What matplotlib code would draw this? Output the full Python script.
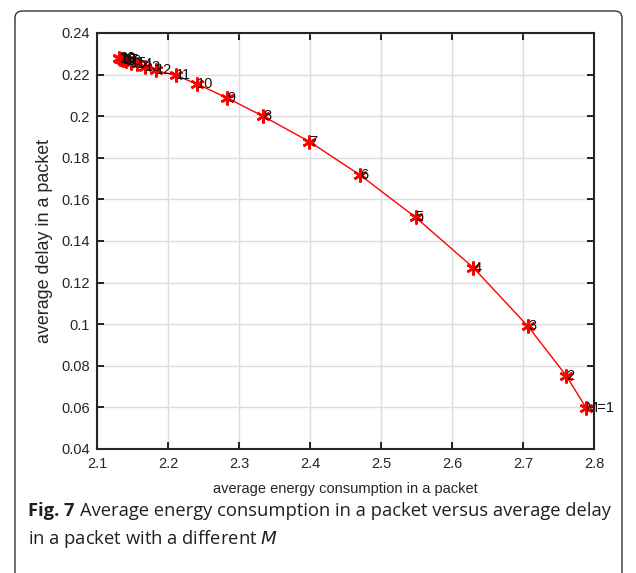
import matplotlib
matplotlib.use("Agg")
import matplotlib.pyplot as plt
from matplotlib.patches import FancyBboxPatch

# values
m_values = list(range(1, 21))
energy = [2.789, 2.761, 2.707, 2.630, 2.549, 2.471, 2.399, 2.334, 2.283, 2.241,
          2.211, 2.183, 2.168, 2.156, 2.148, 2.141, 2.137, 2.134, 2.132, 2.131]
delay = [0.0597, 0.0752, 0.0990, 0.1272, 0.1513, 0.1716, 0.1878, 0.2000, 0.2088, 0.2155,
         0.2196, 0.2220, 0.2236, 0.2249, 0.2258, 0.2265, 0.2270, 0.2274, 0.2277, 0.2279]
x_ticks = [2.1, 2.2, 2.3, 2.4, 2.5, 2.6, 2.7, 2.8]
y_ticks = [0.04, 0.06, 0.08, 0.1, 0.12, 0.14, 0.16, 0.18, 0.2, 0.22, 0.24]

plt.rcParams['font.family'] = ['Liberation Sans', 'DejaVu Sans']

fig = plt.figure(figsize=(6.36, 5.73), dpi=100)

# page frame round the figure
frame = FancyBboxPatch((15 / 636, -0.05), 607 / 636, 1 - 11 / 573 + 0.05,
                       boxstyle="round,pad=0,rounding_size=0.012",
                       transform=fig.transFigure, fill=False,
                       edgecolor='#333333', linewidth=1.0)
fig.patches.append(frame)

ax = fig.add_axes([97 / 636, 1 - 449 / 573, 497 / 636, 416 / 573])
ax.plot(energy, delay, color='red', linewidth=1.0, marker=(6, 2, 0),
        markersize=10, markeredgewidth=1.8)
for m, x, y in zip(m_values, energy, delay):
    label = 'M=1' if m == 1 else str(m)
    ax.text(x, y, label, fontsize=10.5, ha='left', va='center', color='#111111')

ax.set_xlim(2.1, 2.8)
ax.set_ylim(0.04, 0.24)
ax.set_xticks(x_ticks)
ax.set_yticks(y_ticks)
ax.set_xticklabels([f"{t:g}" for t in x_ticks])
ax.set_yticklabels([f"{t:g}" for t in y_ticks])
ax.tick_params(direction='in', length=5, width=1.2, labelsize=10.5,
               labelcolor='#262626', top=True, right=True)
ax.tick_params(axis='x', pad=6)
ax.tick_params(axis='y', pad=5)
ax.grid(True, color='#dddddd', linewidth=1.0)
ax.set_axisbelow(True)
for s in ax.spines.values():
    s.set_linewidth(1.5)
    s.set_color('#262626')

ax.set_xlabel('average energy consumption in a packet', fontsize=10.5, color='#262626',
              labelpad=8)
ax.set_ylabel('average delay in a packet', fontsize=12.9, color='#262626', labelpad=6)

# caption: bold figure number followed by the regular text
cap_y1 = 1 - 516 / 573
cap_y2 = 1 - 544 / 573
bold = fig.text(28 / 636, cap_y1, 'Fig. 7', fontsize=13.2, family='Open Sans',
                weight='bold', va='baseline', ha='left', color='#231f20')
fig.canvas.draw()
bb = bold.get_window_extent()
fig.text((bb.x1 + 5) / 636, cap_y1,
         'Average energy consumption in a packet versus average delay',
         fontsize=13.2, family='Open Sans', va='baseline', ha='left', color='#231f20')
fig.text(28 / 636, cap_y2, 'in a packet with a different $\\it{M}$',
         fontsize=13.2, family='Open Sans', va='baseline', ha='left', color='#231f20')

fig.savefig('out.png', dpi=100)
